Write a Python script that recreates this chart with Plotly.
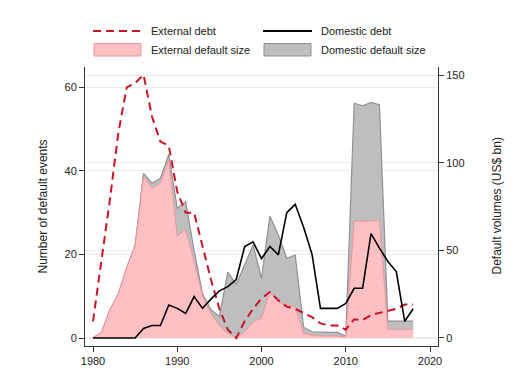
import plotly.graph_objects as go

years = list(range(1980, 2019))

external_debt = [4, 18, 33, 49, 60, 61, 63, 53, 47, 46,
                 35, 30, 30, 22, 14, 7, 2, 0, 4, 7,
                 9.5, 11, 9, 7.5, 7, 6, 5, 3.5, 3, 3,
                 2, 4.5, 4.3, 5.5, 6, 6.5, 7, 8, 8]

domestic_debt = [0, 0, 0, 0, 0, 0, 2.3, 3, 3, 7.9,
                 7.1, 5.9, 9.9, 7.1, 9.3, 11.3, 12.3, 14, 21.9, 23,
                 19, 21.9, 19.9, 30, 32, 26.5, 20, 7.1, 7.1, 7.1,
                 8.3, 11.9, 11.9, 25, 21.5, 18.3, 15.9, 4, 7]

external_size = [0, 3, 16, 25, 40, 53, 92, 85.5, 88.3, 101.7,
                 58, 62, 44, 24, 14, 7, 2.5, 0, 3.4, 9.2,
                 11.1, 26.3, 20.6, 18.7, 17.8, 2.5, 1.5, 1, 1, 1,
                 0.5, 66.9, 66.4, 66.7, 67, 4.8, 4.8, 4.8, 4.8]

domestic_size = [0, 3, 16, 25, 40, 53, 94, 88.3, 91.2, 104.9,
                 74, 77.8, 50, 25, 16, 12, 37.5, 30.5, 41.6, 53,
                 34, 69.6, 58.8, 45.4, 47.3, 6, 3.4, 3, 3, 3,
                 1, 134, 132.5, 134.5, 133.2, 9.5, 9.5, 9.5, 9.5]

left_ticks = [0, 20, 40, 60]
right_ticks = [0, 50, 100, 150]
x_ticks = [1980, 1990, 2000, 2010, 2020]

RED = "rgb(200,20,40)"
PINK_FILL = "rgb(255,192,196)"
PINK_LINE = "rgb(238,150,158)"
GRAY_FILL = "rgb(190,190,190)"
GRAY_LINE = "rgb(145,145,145)"
AX = "#333333"
GRID = "#ebebeb"

fig = go.Figure()
fig.add_trace(go.Scatter(x=years, y=domestic_size, mode="lines", fill="tozeroy",
                         fillcolor=GRAY_FILL, line=dict(color=GRAY_LINE, width=1.2),
                         yaxis="y", showlegend=False, name="Domestic default size"))
fig.add_trace(go.Scatter(x=years, y=external_size, mode="lines", fill="tozeroy",
                         fillcolor=PINK_FILL, line=dict(color=PINK_LINE, width=1),
                         yaxis="y", showlegend=False, name="External default size"))
fig.add_trace(go.Scatter(x=years, y=external_debt, mode="lines",
                         line=dict(color=RED, width=2, dash="8px,5px"),
                         yaxis="y2", showlegend=False, name="External debt"))
fig.add_trace(go.Scatter(x=years, y=domestic_debt, mode="lines",
                         line=dict(color="black", width=1.6),
                         yaxis="y2", showlegend=False, name="Domestic debt"))

# page pixel -> paper coordinates (plot area spans x 85..438, y 67..346 on the page)
def px_x(p):
    return (p - 85) / 353.0

def px_y(p):
    return (346 - p) / 279.0

shapes = [
    dict(type="line", xref="paper", yref="paper", x0=px_x(93), x1=px_x(142), y0=px_y(31), y1=px_y(31),
         line=dict(color=RED, width=2, dash="8px,5px")),
    dict(type="line", xref="paper", yref="paper", x0=px_x(263), x1=px_x(312), y0=px_y(31), y1=px_y(31),
         line=dict(color="black", width=2)),
    dict(type="rect", xref="paper", yref="paper", x0=px_x(94), x1=px_x(141), y0=px_y(56), y1=px_y(43.5),
         fillcolor=PINK_FILL, line=dict(color=PINK_LINE, width=1)),
    dict(type="rect", xref="paper", yref="paper", x0=px_x(264), x1=px_x(311), y0=px_y(56), y1=px_y(43.5),
         fillcolor=GRAY_FILL, line=dict(color=GRAY_LINE, width=1)),
]

legend_font = dict(family="Liberation Sans, Arial, sans-serif", size=11, color="#222")
annotations = [
    dict(text="External debt", x=px_x(149), y=px_y(31)),
    dict(text="Domestic debt", x=px_x(319), y=px_y(31)),
    dict(text="External default size", x=px_x(149), y=px_y(50)),
    dict(text="Domestic default size", x=px_x(319), y=px_y(50)),
]
annotations = [dict(a, xref="paper", yref="paper", xanchor="left", yanchor="middle",
                    showarrow=False, font=legend_font) for a in annotations]
title_font = dict(family="Liberation Sans, Arial, sans-serif", size=12, color="#222")
annotations.append(dict(text="Number of default events", x=px_x(42), y=0.5, xref="paper", yref="paper",
                        textangle=-90, showarrow=False, xanchor="center", yanchor="middle", font=title_font))
annotations.append(dict(text="Default volumes (US$ bn)", x=px_x(496), y=0.5, xref="paper", yref="paper",
                        textangle=-90, showarrow=False, xanchor="center", yanchor="middle", font=title_font))

axis_common = dict(showline=True, linecolor=AX, linewidth=1, ticks="outside", ticklen=5,
                   tickcolor=AX, tickfont=dict(family="Liberation Sans, Arial, sans-serif", size=11, color="#222"),
                   zeroline=False)

# the page body has an 8px margin, so the figure is 8px smaller and margins are shifted
fig.update_layout(
    width=523, height=378,
    margin=dict(l=77, r=93, t=59, b=40),
    paper_bgcolor="white", plot_bgcolor="white",
    font=dict(family="Liberation Sans, Arial, sans-serif", color="#222"),
    xaxis=dict(range=[1979.05, 2020.95], tickvals=x_ticks, showgrid=False, **axis_common),
    yaxis=dict(range=[-4.74, 154.75], tickvals=right_ticks, side="right", showgrid=True,
               gridcolor=GRID, gridwidth=1, **axis_common),
    yaxis2=dict(range=[-1.91, 64.86], tickvals=left_ticks, side="left", overlaying="y",
                showgrid=True, gridcolor=GRID, gridwidth=1, **axis_common),
    shapes=shapes,
    annotations=annotations,
    showlegend=False,
)

fig.write_html("out.html")
